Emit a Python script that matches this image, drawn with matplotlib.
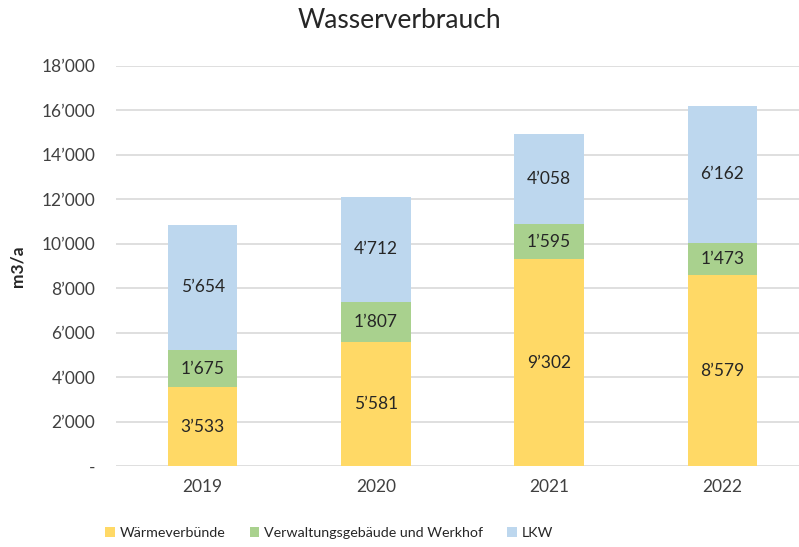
import numpy as np
import matplotlib.pyplot as plt

##### Data #####
years = ['2019', '2020', '2021', '2022']
waermeverbuende = [3533, 5581, 9302, 8579]
verwaltung = [1675, 1807, 1595, 1473]
lkw = [5654, 4712, 4058, 6162]
series_names = ['Wärmeverbünde', 'Verwaltungsgebäude und Werkhof', 'LKW']
y_ticks = [0, 2000, 4000, 6000, 8000, 10000, 12000, 14000, 16000, 18000]

colors = ['#FFD966', '#A9D18E', '#BDD7EE']

def fmt(v):
    if v == 0:
        return '-'
    return '{:,}'.format(int(v)).replace(',', '\u2019')

plt.rcParams['font.family'] = ['Lato', 'DejaVu Sans']

fig = plt.figure(figsize=(7.99, 5.47), dpi=100)
# axes extends a bit past the right edge like the reference
ax = fig.add_axes([116/799, 1-466/547, 693/799, 400/547])

x = np.arange(len(years))
bottom = np.zeros(len(years))
handles = []
for vals, col, name in zip([waermeverbuende, verwaltung, lkw], colors, series_names):
    b = ax.bar(x, vals, 0.4, bottom=bottom, color=col, label=name, zorder=3)
    handles.append(b)
    for xi, v, b0 in zip(x, vals, bottom):
        ax.text(xi, b0 + v/2, fmt(v), ha='center', va='center', fontsize=12.5, color='#262626', zorder=4)
    bottom = bottom + np.array(vals)

ax.set_xlim(-0.5, len(years) - 0.5)
ax.set_ylim(0, 18000)
ax.set_yticks(y_ticks)
ax.set_yticklabels([fmt(t) for t in y_ticks], fontsize=12.5, color='#404040')
ax.set_xticks(x)
ax.set_xticklabels(years, fontsize=12.5, color='#404040')
ax.tick_params(length=0)
ax.tick_params(axis='y', pad=15)
ax.tick_params(axis='x', pad=9)
ax.grid(axis='y', color='#D9D9D9', linewidth=1.2, zorder=0)
for s in ax.spines.values():
    s.set_visible(False)

fig.text(17/799, 1-266/547, 'm3/a', rotation=90, ha='center', va='center',
         fontsize=12.5, fontweight='bold', color='#262626')

fig.text(0.5, 1-20/547, 'Wasserverbrauch', ha='center', va='center', fontsize=19, color='#262626')

fig.legend(handles=handles, loc='center', bbox_to_anchor=(0.412, 1-533/547), ncol=3,
           frameon=False, fontsize=10.3, handlelength=0.65, handleheight=0.65,
           handletextpad=0.35, columnspacing=1.7, labelcolor='#262626')

plt.savefig('out.png', dpi=100)
